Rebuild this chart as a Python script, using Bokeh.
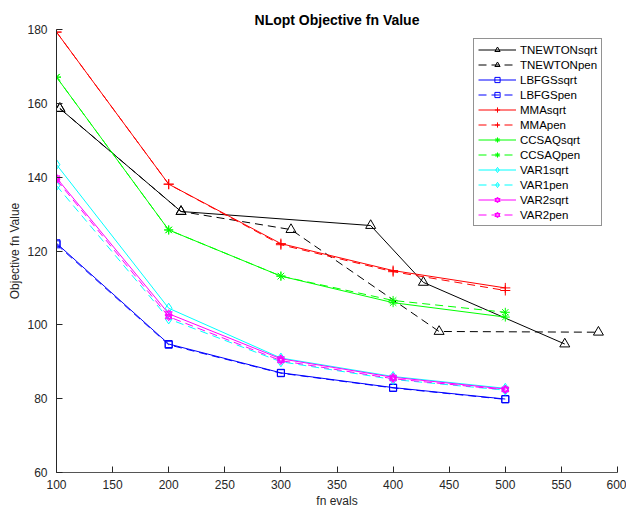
from bokeh.plotting import figure
from bokeh.models import Legend, LegendItem, FixedTicker
from bokeh.embed import file_html
from bokeh.resources import INLINE

# ---- data ----
evals = [100, 200, 300, 400, 500]

tnewton_sqrt_x = [103, 211, 380, 427, 553]
tnewton_sqrt_y = [158.6, 130.7, 126.9, 111.5, 94.8]
tnewton_pen_x = [103, 211, 309, 441, 583]
tnewton_pen_y = [158.6, 130.7, 125.8, 98.2, 98.0]

lbfgs_sqrt = [122.1, 94.8, 87.0, 83.0, 79.9]
lbfgs_pen = [121.8, 94.6, 86.9, 82.9, 79.8]

mma_sqrt = [179.3, 138.1, 122.0, 114.7, 110.0]
mma_pen = [179.3, 138.1, 121.7, 114.4, 109.3]

ccsaq_sqrt = [167.1, 125.7, 113.2, 106.0, 102.1]
ccsaq_pen = [167.1, 125.7, 113.2, 106.6, 103.4]

var1_sqrt = [143.4, 104.5, 91.0, 86.0, 82.8]
var1_pen = [137.7, 101.6, 90.0, 85.2, 82.3]

var2_sqrt = [139.8, 103.0, 90.8, 85.8, 82.6]
var2_pen = [139.3, 102.2, 90.3, 85.4, 82.4]

x_ticks = [100, 150, 200, 250, 300, 350, 400, 450, 500, 550, 600]
y_ticks = [60, 80, 100, 120, 140, 160, 180]

FONT = "Liberation Sans"
DASH = "8 5"

p = figure(width=626, height=511, output_backend="svg", toolbar_location=None,
           x_range=(100, 600), y_range=(60, 180),
           min_border_left=56, min_border_right=9, min_border_top=29, min_border_bottom=39,
           title="NLopt Objective fn Value")
p.outline_line_color = None
p.grid.visible = False
p.background_fill_color = "white"
p.border_fill_color = "white"

p.title.text_font = FONT
p.title.text_font_size = "14px"
p.title.text_font_style = "bold"
p.title.align = "center"
p.title.standoff = 3
p.title.offset = -7
p.title.text_color = "black"

for ax, ticks in ((p.xaxis[0], x_ticks), (p.yaxis[0], y_ticks)):
    ax.ticker = FixedTicker(ticks=ticks)
    ax.major_tick_in = 6
    ax.major_tick_out = 0
    ax.minor_tick_line_color = None
    ax.major_label_text_font = FONT
    ax.major_label_text_font_size = "12px"
    ax.major_label_text_color = "#262626"
    ax.axis_label_text_font = FONT
    ax.axis_label_text_font_size = "12px"
    ax.axis_label_text_font_style = "normal"
    ax.axis_label_text_color = "#262626"

p.xaxis.axis_label = "fn evals"
p.yaxis.axis_label = "Objective fn Value"
p.xaxis.axis_line_color = "#555555"
p.xaxis.major_tick_line_color = "#262626"
p.yaxis.axis_line_color = "#262626"
p.yaxis.major_tick_line_color = "#262626"
p.xaxis.major_label_standoff = 7
p.yaxis.major_label_standoff = 9
p.xaxis.axis_label_standoff = 2
p.yaxis.axis_label_standoff = 2

items = []

def series(label, xs, ys, color, dash, markers, size):
    r_line = p.line(xs, ys, line_color=color, line_width=1, line_dash=dash)
    rs = [r_line]
    for m in markers:
        rs.append(p.scatter(xs, ys, marker=m, size=size, line_color=color,
                            line_width=1, fill_color=None))
    items.append(LegendItem(label=label, renderers=rs))

series("TNEWTONsqrt", tnewton_sqrt_x, tnewton_sqrt_y, "black", "solid", ["triangle"], 10)
series("TNEWTONpen", tnewton_pen_x, tnewton_pen_y, "black", DASH, ["triangle"], 10)
series("LBFGSsqrt", evals, lbfgs_sqrt, "#0000ff", "solid", ["square"], 7)
series("LBFGSpen", evals, lbfgs_pen, "#0000ff", DASH, ["square"], 7)
series("MMAsqrt", evals, mma_sqrt, "#ff0000", "solid", ["cross"], 10)
series("MMApen", evals, mma_pen, "#ff0000", DASH, ["cross"], 10)
series("CCSAQsqrt", evals, ccsaq_sqrt, "#00ff00", "solid", ["asterisk"], 9)
series("CCSAQpen", evals, ccsaq_pen, "#00ff00", DASH, ["asterisk"], 9)
series("VAR1sqrt", evals, var1_sqrt, "#00ffff", "solid", ["diamond"], 10)
series("VAR1pen", evals, var1_pen, "#00ffff", DASH, ["diamond"], 10)
series("VAR2sqrt", evals, var2_sqrt, "#ff00ff", "solid", ["triangle", "inverted_triangle"], 7)
series("VAR2pen", evals, var2_pen, "#ff00ff", DASH, ["triangle", "inverted_triangle"], 7)

legend = Legend(items=items, location=(417, 246), margin=0, padding=4, spacing=2,
                label_height=13, glyph_height=13, glyph_width=38, label_standoff=4,
                label_text_font=FONT, label_text_font_size="11.5px", label_text_color="black",
                border_line_color="#262626", border_line_width=1,
                background_fill_color="white", background_fill_alpha=1)
p.add_layout(legend, "center")

open("out.html", "w").write(file_html(p, INLINE))
